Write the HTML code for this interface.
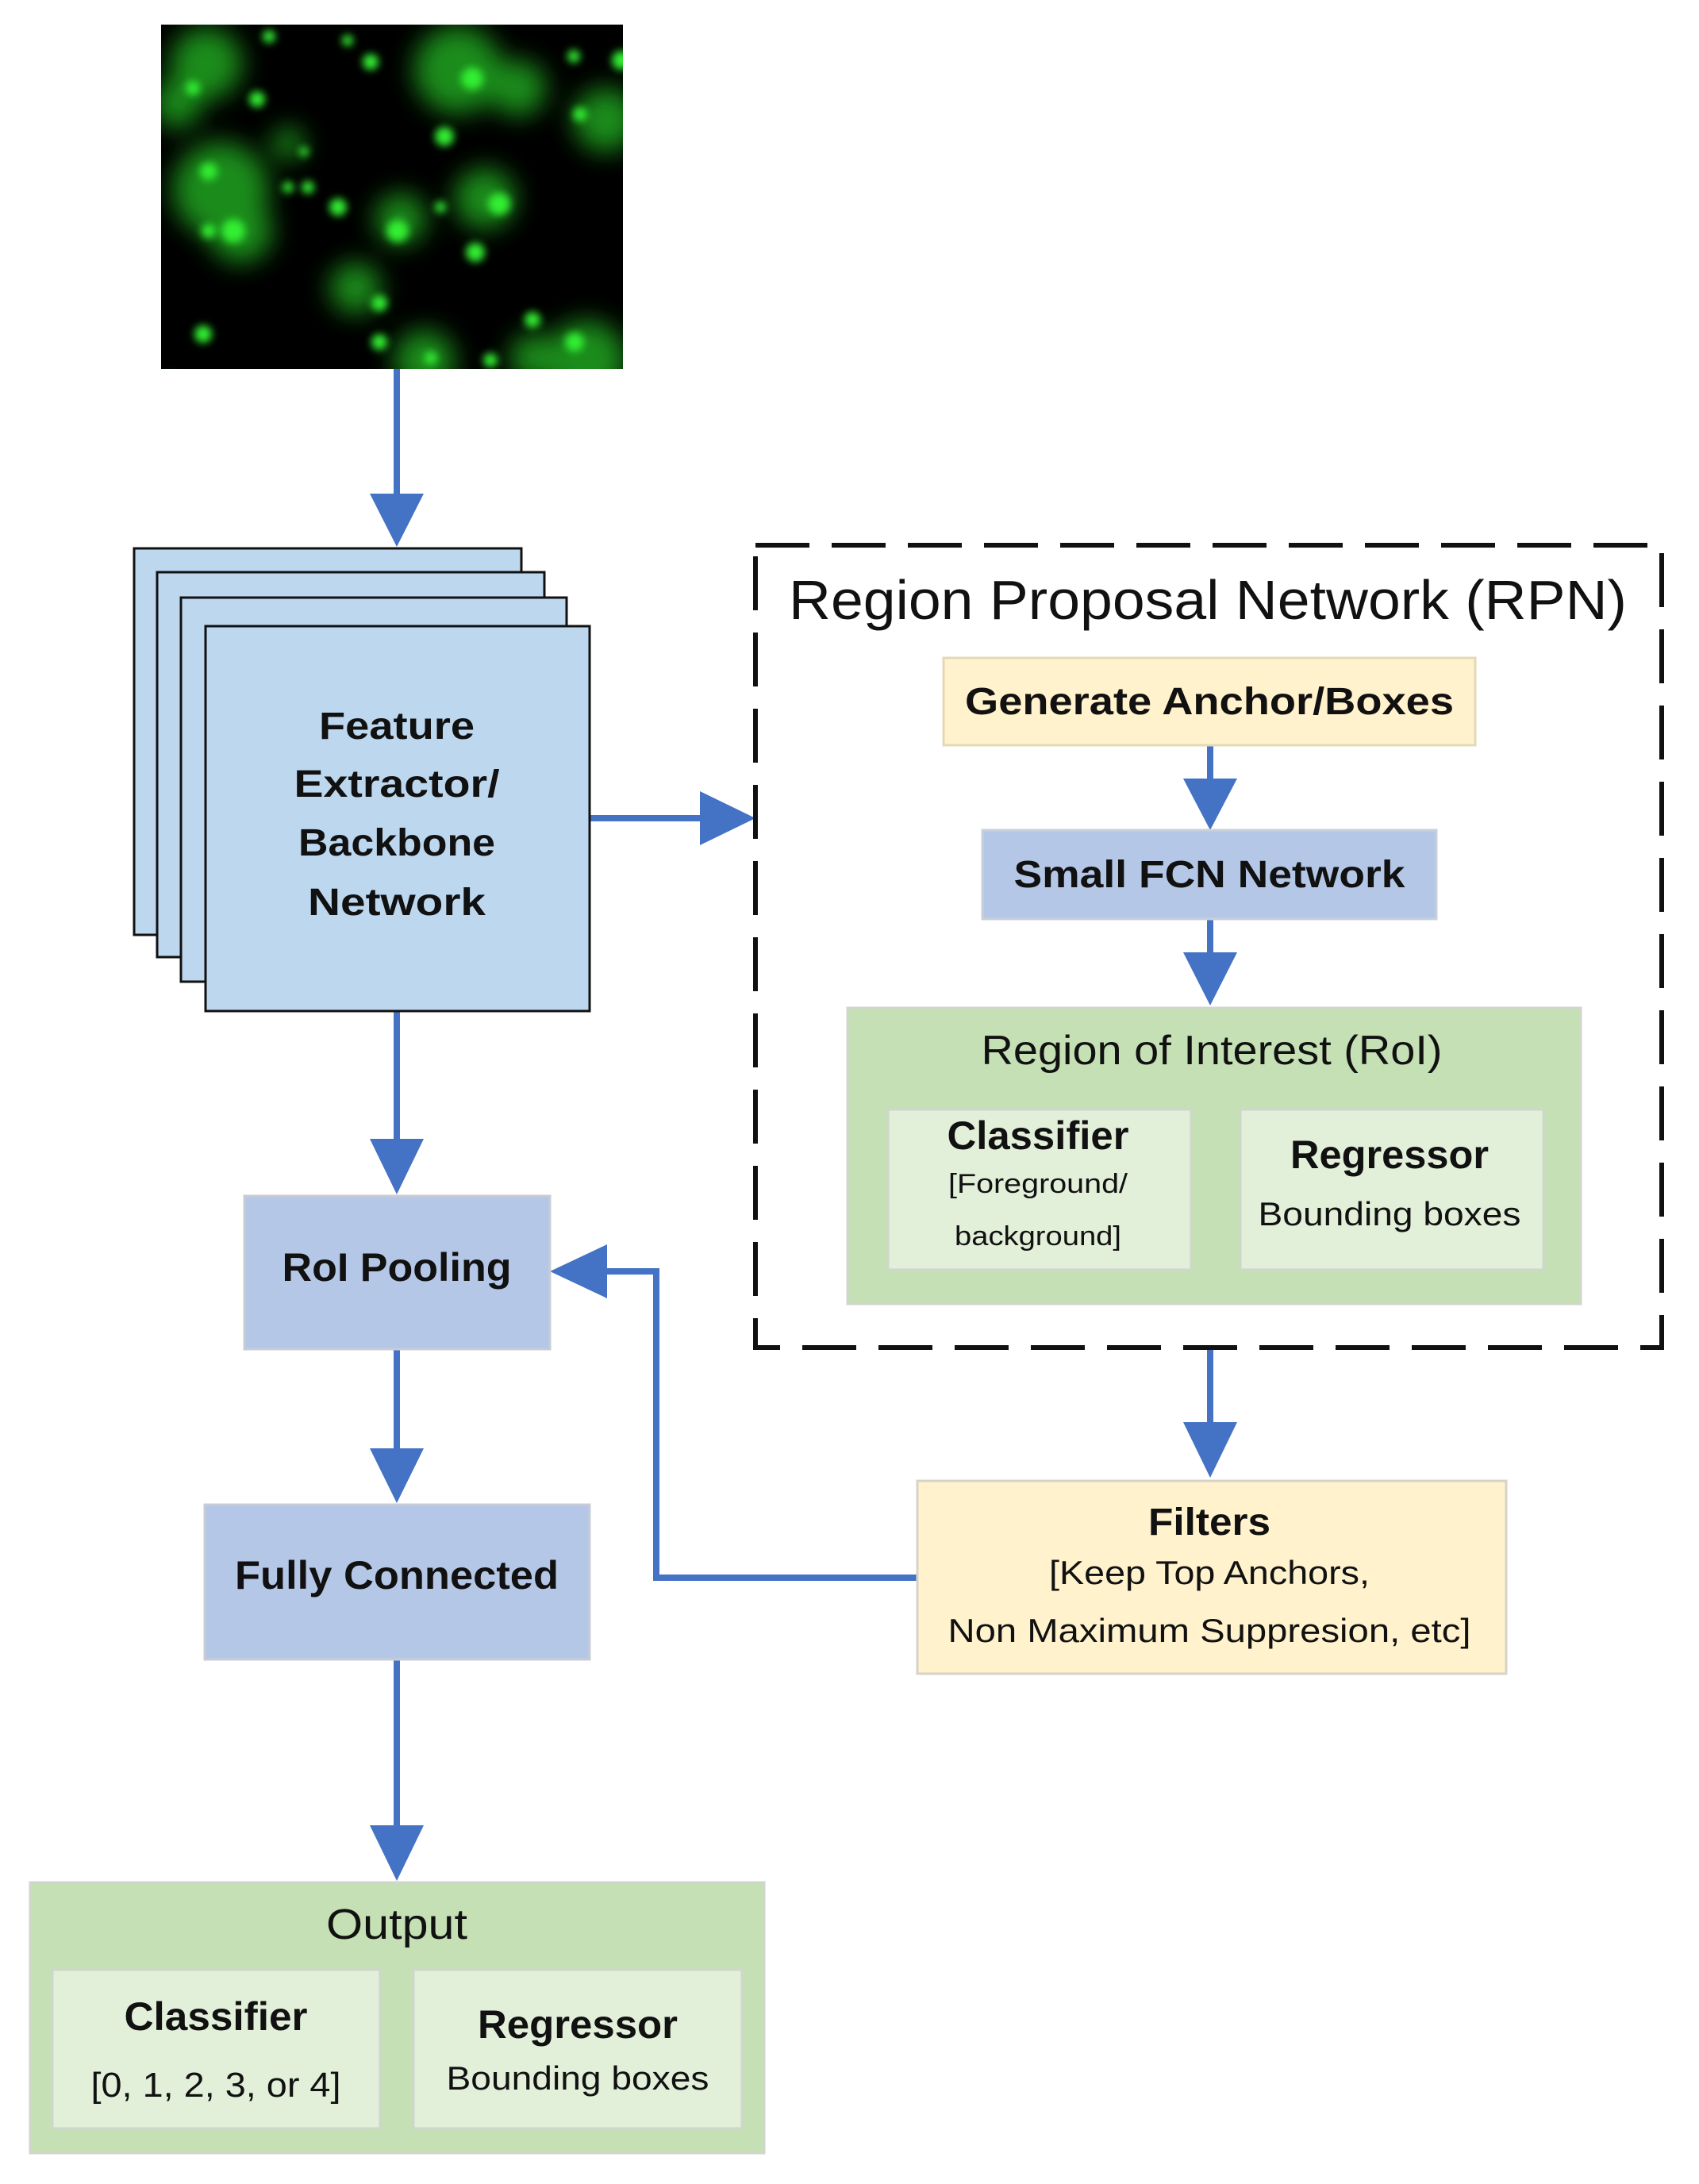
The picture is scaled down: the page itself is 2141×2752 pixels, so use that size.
<!DOCTYPE html>
<html><head><meta charset="utf-8"><style>
html,body{margin:0;padding:0;background:#fff;}
svg{display:block;}
text{font-family:"Liberation Sans",sans-serif;fill:#111;}
.b{font-weight:bold;}
</style></head><body>
<svg width="2141" height="2752" viewBox="0 0 2141 2752" xmlns="http://www.w3.org/2000/svg">
<defs>
<filter id="bl" x="-50%" y="-50%" width="200%" height="200%"><feGaussianBlur stdDeviation="5"/></filter>
<filter id="bl2" x="-50%" y="-50%" width="200%" height="200%"><feGaussianBlur stdDeviation="16"/></filter>
<clipPath id="pc"><rect x="0" y="0" width="582" height="434"/></clipPath>
</defs>
<!-- photo -->
<rect x="203" y="31" width="582" height="434" fill="#000"/>
<g transform="translate(203,31)">
<g clip-path="url(#pc)">
<g filter="url(#bl2)" fill="#22b022" opacity="0.8">
<circle cx="57" cy="49" r="45"/><circle cx="75" cy="208" r="60"/><circle cx="374" cy="57" r="55"/>
<circle cx="302" cy="245" r="32"/><circle cx="245" cy="332" r="32"/><circle cx="536" cy="423" r="50"/>
<circle cx="332" cy="423" r="38"/><circle cx="408" cy="219" r="38"/><circle cx="20" cy="100" r="30"/>
<circle cx="560" cy="120" r="40"/><circle cx="160" cy="150" r="20"/><circle cx="100" cy="260" r="40"/>
<circle cx="450" cy="80" r="35"/><circle cx="470" cy="420" r="30"/>
</g>
<g filter="url(#bl)" fill="#33ee33">
<circle cx="264" cy="47" r="10"/><circle cx="121" cy="94" r="10"/><circle cx="357" cy="141" r="12"/>
<circle cx="223" cy="230" r="11"/><circle cx="53" cy="390" r="11"/><circle cx="91" cy="260" r="15"/>
<circle cx="60" cy="185" r="11"/><circle cx="392" cy="68" r="14"/><circle cx="298" cy="260" r="14"/>
<circle cx="396" cy="287" r="12"/><circle cx="426" cy="226" r="14"/><circle cx="528" cy="113" r="9"/>
<circle cx="468" cy="372" r="10"/><circle cx="275" cy="351" r="10"/><circle cx="275" cy="400" r="10"/>
<circle cx="521" cy="400" r="12"/><circle cx="415" cy="423" r="9"/><circle cx="145" cy="457" r="9"/>
<circle cx="136" cy="15" r="8"/><circle cx="235" cy="20" r="7"/><circle cx="185" cy="205" r="8"/>
<circle cx="352" cy="230" r="7"/><circle cx="10" cy="450" r="9"/><circle cx="580" cy="45" r="12"/>
<circle cx="160" cy="205" r="7"/><circle cx="180" cy="160" r="6"/><circle cx="340" cy="420" r="8"/>
<circle cx="60" cy="260" r="9"/><circle cx="520" cy="40" r="8"/><circle cx="40" cy="80" r="9"/>
</g>
</g>
</g>
<!-- arrows -->
<g stroke="#4472c4" stroke-width="8" fill="none">
<line x1="500" y1="465" x2="500" y2="630"/>
<line x1="743" y1="1031" x2="890" y2="1031"/>
<line x1="1525" y1="939" x2="1525" y2="990"/>
<line x1="1525" y1="1158" x2="1525" y2="1210"/>
<line x1="1525" y1="1700" x2="1525" y2="1800"/>
<polyline points="1156,1988 827,1988 827,1602 760,1602"/>
<line x1="500" y1="1274" x2="500" y2="1440"/>
<line x1="500" y1="1700" x2="500" y2="1830"/>
<line x1="500" y1="2091" x2="500" y2="2305"/>
</g>
<g fill="#4472c4">
<polygon points="466,622 534,622 500,689"/>
<polygon points="882,997 882,1065 952,1031"/>
<polygon points="1491,981 1559,981 1525,1046"/>
<polygon points="1491,1200 1559,1200 1525,1267"/>
<polygon points="1491,1792 1559,1792 1525,1862"/>
<polygon points="765,1568 765,1636 693,1602"/>
<polygon points="466,1435 534,1435 500,1505"/>
<polygon points="466,1825 534,1825 500,1894"/>
<polygon points="466,2300 534,2300 500,2370"/>
</g>
<!-- stacked pages -->
<g fill="#bdd7ee" stroke="#111" stroke-width="3">
<rect x="169" y="691" width="488" height="487"/>
<rect x="198" y="721" width="488" height="485"/>
<rect x="228" y="753" width="486" height="484"/>
<rect x="259" y="789" width="484" height="485"/>
</g>
<g class="b" font-size="48" text-anchor="middle">
<text x="500" y="931" class="b" textLength="196" lengthAdjust="spacingAndGlyphs">Feature</text>
<text x="500" y="1004" class="b" textLength="259" lengthAdjust="spacingAndGlyphs">Extractor/</text>
<text x="500" y="1078" class="b" textLength="248" lengthAdjust="spacingAndGlyphs">Backbone</text>
<text x="500" y="1153" class="b" textLength="224" lengthAdjust="spacingAndGlyphs">Network</text>
</g>
<!-- RPN dashed -->
<rect x="952" y="687" width="1142" height="1011" fill="none" stroke="#111" stroke-width="6" stroke-dasharray="68,28"/>
<text x="1522" y="780" font-size="70" text-anchor="middle" textLength="1056" lengthAdjust="spacingAndGlyphs">Region Proposal Network (RPN)</text>
<rect x="1189" y="829" width="670" height="110" fill="#fff2cc" stroke="#e3d9b8" stroke-width="3"/>
<text x="1524" y="900" font-size="48" class="b" text-anchor="middle" textLength="616" lengthAdjust="spacingAndGlyphs">Generate Anchor/Boxes</text>
<rect x="1238" y="1046" width="572" height="112" fill="#b4c7e7" stroke="#c8d0dc" stroke-width="3"/>
<text x="1524" y="1118" font-size="48" class="b" text-anchor="middle" textLength="493" lengthAdjust="spacingAndGlyphs">Small FCN Network</text>
<rect x="1068" y="1270" width="924" height="373" fill="#c5e0b4" stroke="#cfd6cb" stroke-width="3"/>
<text x="1527" y="1341" font-size="52" text-anchor="middle" textLength="581" lengthAdjust="spacingAndGlyphs">Region of Interest (RoI)</text>
<rect x="1119" y="1398" width="382" height="202" fill="#e2efd9" stroke="#cfd6cb" stroke-width="3"/>
<rect x="1563" y="1398" width="382" height="202" fill="#e2efd9" stroke="#cfd6cb" stroke-width="3"/>
<text x="1308" y="1448" font-size="50" class="b" text-anchor="middle" textLength="229" lengthAdjust="spacingAndGlyphs">Classifier</text>
<text x="1308" y="1503" font-size="34" text-anchor="middle" textLength="226" lengthAdjust="spacingAndGlyphs">[Foreground/</text>
<text x="1308" y="1569" font-size="34" text-anchor="middle" textLength="210" lengthAdjust="spacingAndGlyphs">background]</text>
<text x="1751" y="1472" font-size="50" class="b" text-anchor="middle" textLength="250" lengthAdjust="spacingAndGlyphs">Regressor</text>
<text x="1751" y="1544" font-size="42" text-anchor="middle" textLength="331" lengthAdjust="spacingAndGlyphs">Bounding boxes</text>
<!-- filters -->
<rect x="1156" y="1866" width="742" height="243" fill="#fff2cc" stroke="#d6d3c8" stroke-width="3"/>
<text x="1524" y="1934" font-size="48" class="b" text-anchor="middle" textLength="154" lengthAdjust="spacingAndGlyphs">Filters</text>
<text x="1524" y="1996" font-size="42" text-anchor="middle" textLength="404" lengthAdjust="spacingAndGlyphs">[Keep Top Anchors,</text>
<text x="1524" y="2069" font-size="42" text-anchor="middle" textLength="659" lengthAdjust="spacingAndGlyphs">Non Maximum Suppresion, etc]</text>
<!-- RoI pooling / FC -->
<rect x="308" y="1507" width="385" height="193" fill="#b4c7e7" stroke="#c8ccd4" stroke-width="3"/>
<text x="500" y="1614" font-size="50" class="b" text-anchor="middle" textLength="289" lengthAdjust="spacingAndGlyphs">RoI Pooling</text>
<rect x="258" y="1896" width="485" height="195" fill="#b4c7e7" stroke="#c8ccd4" stroke-width="3"/>
<text x="500" y="2002" font-size="50" class="b" text-anchor="middle" textLength="408" lengthAdjust="spacingAndGlyphs">Fully Connected</text>
<!-- output -->
<rect x="38" y="2372" width="925" height="341" fill="#c5e0b4" stroke="#cfd6cb" stroke-width="3"/>
<text x="500" y="2443" font-size="54" text-anchor="middle" textLength="178" lengthAdjust="spacingAndGlyphs">Output</text>
<rect x="66" y="2482" width="413" height="200" fill="#e2efd9" stroke="#cfd6cb" stroke-width="3"/>
<rect x="521" y="2482" width="414" height="200" fill="#e2efd9" stroke="#cfd6cb" stroke-width="3"/>
<text x="272" y="2558" font-size="50" class="b" text-anchor="middle" textLength="231" lengthAdjust="spacingAndGlyphs">Classifier</text>
<text x="272" y="2642" font-size="44" text-anchor="middle" textLength="315" lengthAdjust="spacingAndGlyphs">[0, 1, 2, 3, or 4]</text>
<text x="728" y="2568" font-size="50" class="b" text-anchor="middle" textLength="252" lengthAdjust="spacingAndGlyphs">Regressor</text>
<text x="728" y="2633" font-size="42" text-anchor="middle" textLength="331" lengthAdjust="spacingAndGlyphs">Bounding boxes</text>
</svg>
</body></html>
